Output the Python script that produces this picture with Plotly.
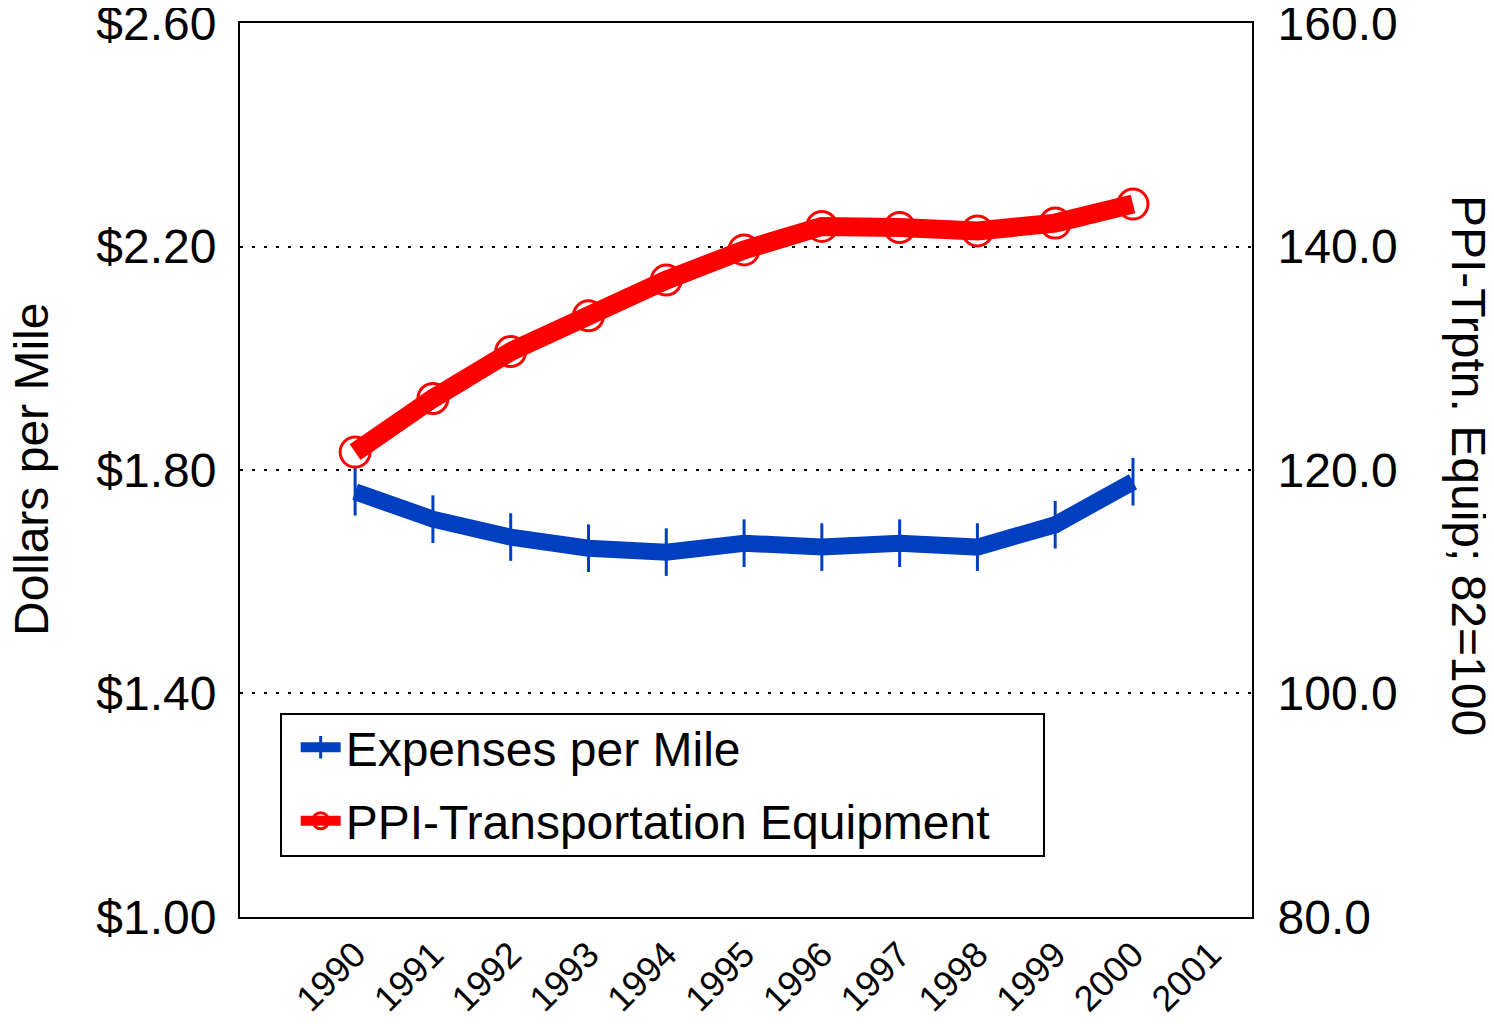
import plotly.graph_objects as go

years = ["1990", "1991", "1992", "1993", "1994", "1995", "1996", "1997", "1998", "1999", "2000", "2001"]
expenses = [1.761, 1.712, 1.680, 1.660, 1.653, 1.669, 1.662, 1.669, 1.662, 1.702, 1.779]
ppi = [121.6, 126.4, 130.6, 133.8, 137.0, 139.7, 141.8, 141.7, 141.4, 142.1, 143.8]
left_ticks = [1.00, 1.40, 1.80, 2.20, 2.60]
right_ticks = [80, 100, 120, 140, 160]

xi = list(range(len(years)))
BLUE = "#0040C0"
RED = "#FF0000"
FONT = "Liberation Sans, Arial, sans-serif"

fig = go.Figure()
fig.add_trace(go.Scatter(
    x=xi[:len(expenses)], y=expenses, name="Expenses per Mile", mode="lines+markers",
    line=dict(color=BLUE, width=17), legendgroup="a",
    marker=dict(symbol="line-ns", size=34, line=dict(color=BLUE, width=3), color=BLUE),
))
fig.add_trace(go.Scatter(
    x=xi[:len(ppi)], y=ppi, name="PPI-Transportation Equipment", mode="lines+markers",
    line=dict(color=RED, width=19), yaxis="y2", legendgroup="b",
    marker=dict(symbol="circle-open", size=30, line=dict(color=RED, width=3), color=RED),
))

fig.update_layout(
    width=1486, height=1016,
    margin=dict(l=232, r=242, t=15, b=107),
    paper_bgcolor="white", plot_bgcolor="white",
    font=dict(family=FONT, color="black", size=48),
    showlegend=True,
    legend=dict(x=0.055, y=0.232, xanchor="left", yanchor="top",
                bgcolor="rgba(0,0,0,0)", borderwidth=0,
                font=dict(size=48), tracegroupgap=8, itemwidth=40),
    xaxis=dict(
        range=[-1.48, 11.53], tickmode="array", tickvals=xi, ticktext=years,
        tickangle=-45, tickfont=dict(size=36), showgrid=False, zeroline=False,
        showline=True, linecolor="black", linewidth=2, mirror=True, ticks="",
        automargin=False,
    ),
    yaxis=dict(
        range=[0.9999, 2.6001], tickmode="array", tickvals=left_ticks,
        ticktext=[f"${v:.2f}" for v in left_ticks], tickfont=dict(size=48),
        showgrid=True, gridcolor="black", gridwidth=1.5, griddash="3px,9px",
        zeroline=False, showline=True, linecolor="black", linewidth=2, ticks="",
        automargin=False, ticklabeloverflow="allow", ticklabelstandoff=12,
    ),
    yaxis2=dict(
        range=[79.99, 160.01], overlaying="y", side="right", tickmode="array",
        tickvals=right_ticks, ticktext=[f"{v:.1f}" for v in right_ticks],
        tickfont=dict(size=48), showgrid=False, zeroline=False,
        showline=True, linecolor="black", linewidth=2, ticks="",
        automargin=False, ticklabeloverflow="allow", ticklabelstandoff=14,
    ),
    shapes=[dict(type="rect", xref="paper", yref="paper",
                 x0=(281 - 240) / 1012, x1=(1044 - 240) / 1012,
                 y0=(917 - 856) / 894, y1=(917 - 714) / 894,
                 line=dict(color="black", width=2), fillcolor="rgba(0,0,0,0)")],
    annotations=[
        dict(text="Dollars per Mile", xref="paper", yref="paper", x=-0.2065, y=0.5,
             xanchor="center", yanchor="middle", textangle=-90, showarrow=False,
             font=dict(size=48)),
        dict(text="PPI-Trptn. Equip; 82=100", xref="paper", yref="paper", x=1.214, y=0.505,
             xanchor="center", yanchor="middle", textangle=90, showarrow=False,
             font=dict(size=48)),
    ],
)

fig.write_html("out.html")
